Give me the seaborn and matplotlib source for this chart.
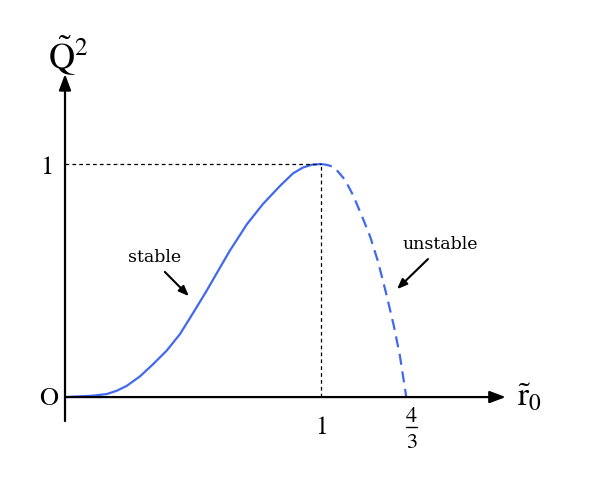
import matplotlib
matplotlib.use("Agg")
import matplotlib.pyplot as plt
import seaborn as sns
import pandas as pd

# Datos
r_estable = [0, 0.059, 0.111, 0.163, 0.202, 0.241, 0.293, 0.345, 0.397, 0.449,
             0.50, 0.55, 0.60, 0.645, 0.711, 0.773, 0.84, 0.891, 0.93, 0.965, 1.0]
q_estable = [0, 0.003, 0.006, 0.013, 0.027, 0.048, 0.089, 0.142, 0.199, 0.270,
             0.36, 0.45, 0.545, 0.63, 0.742, 0.828, 0.906, 0.96, 0.985, 0.997, 1.0]
r_inestable = [1.0, 1.025, 1.052, 1.094, 1.125, 1.161, 1.192, 1.223, 1.253,
               1.284, 1.308, 4 / 3]
q_inestable = [1.0, 0.996, 0.986, 0.932, 0.867, 0.774, 0.689, 0.581, 0.452,
               0.309, 0.180, 0]

x_ticks = [1, 4 / 3]
x_tick_labels = ["1", ("4", "3")]  # la segunda es una fraccion
y_ticks = [1]
y_tick_labels = ["1"]

sns.set_theme(style="white")
plt.rcParams["mathtext.fontset"] = "stix"
plt.rcParams["font.family"] = ["STIXGeneral", "DejaVu Serif"]
plt.rcParams["text.color"] = "black"

azul = "#4169F0"

fig = plt.figure(figsize=(5.91, 4.85), dpi=100)
ax = fig.add_axes([0, 0, 1, 1])
ax.set_xlim(-0.254, 2.055)
ax.set_ylim(-0.373, 1.708)
ax.axis("off")

df_est = pd.DataFrame({"r": r_estable, "q": q_estable})
df_ins = pd.DataFrame({"r": r_inestable, "q": q_inestable})
sns.lineplot(data=df_est, x="r", y="q", ax=ax, color=azul, lw=1.6,
             sort=False, estimator=None)
sns.lineplot(data=df_ins, x="r", y="q", ax=ax, color=azul, lw=1.6,
             sort=False, estimator=None, linestyle=(0, (5, 3)))

# lineas guia punteadas
ax.plot([0, x_ticks[0]], [y_ticks[0], y_ticks[0]], color="black", lw=0.9,
        linestyle=(0, (3, 2.5)))
ax.plot([x_ticks[0], x_ticks[0]], [0, y_ticks[0]], color="black", lw=0.9,
        linestyle=(0, (3, 2.5)))

# ejes con flechas
flecha = dict(arrowstyle="-|>,head_length=0.8,head_width=0.3", color="black",
              lw=1.6, shrinkA=0, shrinkB=0)
ax.annotate("", xy=(1.722, 0), xytext=(0, 0), arrowprops=flecha)
ax.annotate("", xy=(0, 1.386), xytext=(0, -0.103), arrowprops=flecha)

# etiquetas de ejes
ax.text(-0.065, 1.375, r"$\tilde{\mathrm{Q}}^2$", fontsize=26, ha="left", va="bottom")
ax.text(1.765, -0.065, r"$\tilde{\mathrm{r}}_0$", fontsize=24, ha="left", va="bottom")
ax.text(-0.026, -0.004, "O", fontsize=19, ha="right", va="center")

for t, lab in zip(y_ticks, y_tick_labels):
    ax.text(-0.045, t - 0.012, lab, fontsize=19, ha="right", va="center")
ax.text(x_ticks[0], -0.13, x_tick_labels[0], fontsize=18, ha="center", va="center")

# fraccion 4/3 escrita a mano
xc = x_ticks[1] + 0.02
num, den = x_tick_labels[1]
ax.text(xc, -0.082, num, fontsize=16, ha="center", va="center")
ax.text(xc, -0.192, den, fontsize=16, ha="center", va="center")
ax.plot([xc - 0.021, xc + 0.021], [-0.13, -0.13], color="black", lw=1.0)

# anotaciones
ax.text(0.35, 0.605, "stable", fontsize=12.5, family="DejaVu Serif",
        ha="center", va="center")
ax.annotate("", xy=(0.484, 0.433), xytext=(0.39, 0.537),
            arrowprops=dict(arrowstyle="-|>,head_length=0.5,head_width=0.2",
                            color="black", lw=1.5, shrinkA=0, shrinkB=0))
ax.text(1.465, 0.66, "unstable", fontsize=12.5, family="DejaVu Serif",
        ha="center", va="center")
ax.annotate("", xy=(1.297, 0.463), xytext=(1.418, 0.592),
            arrowprops=dict(arrowstyle="-|>,head_length=0.5,head_width=0.2",
                            color="black", lw=1.5, shrinkA=0, shrinkB=0))

fig.savefig("out.png", dpi=100)
